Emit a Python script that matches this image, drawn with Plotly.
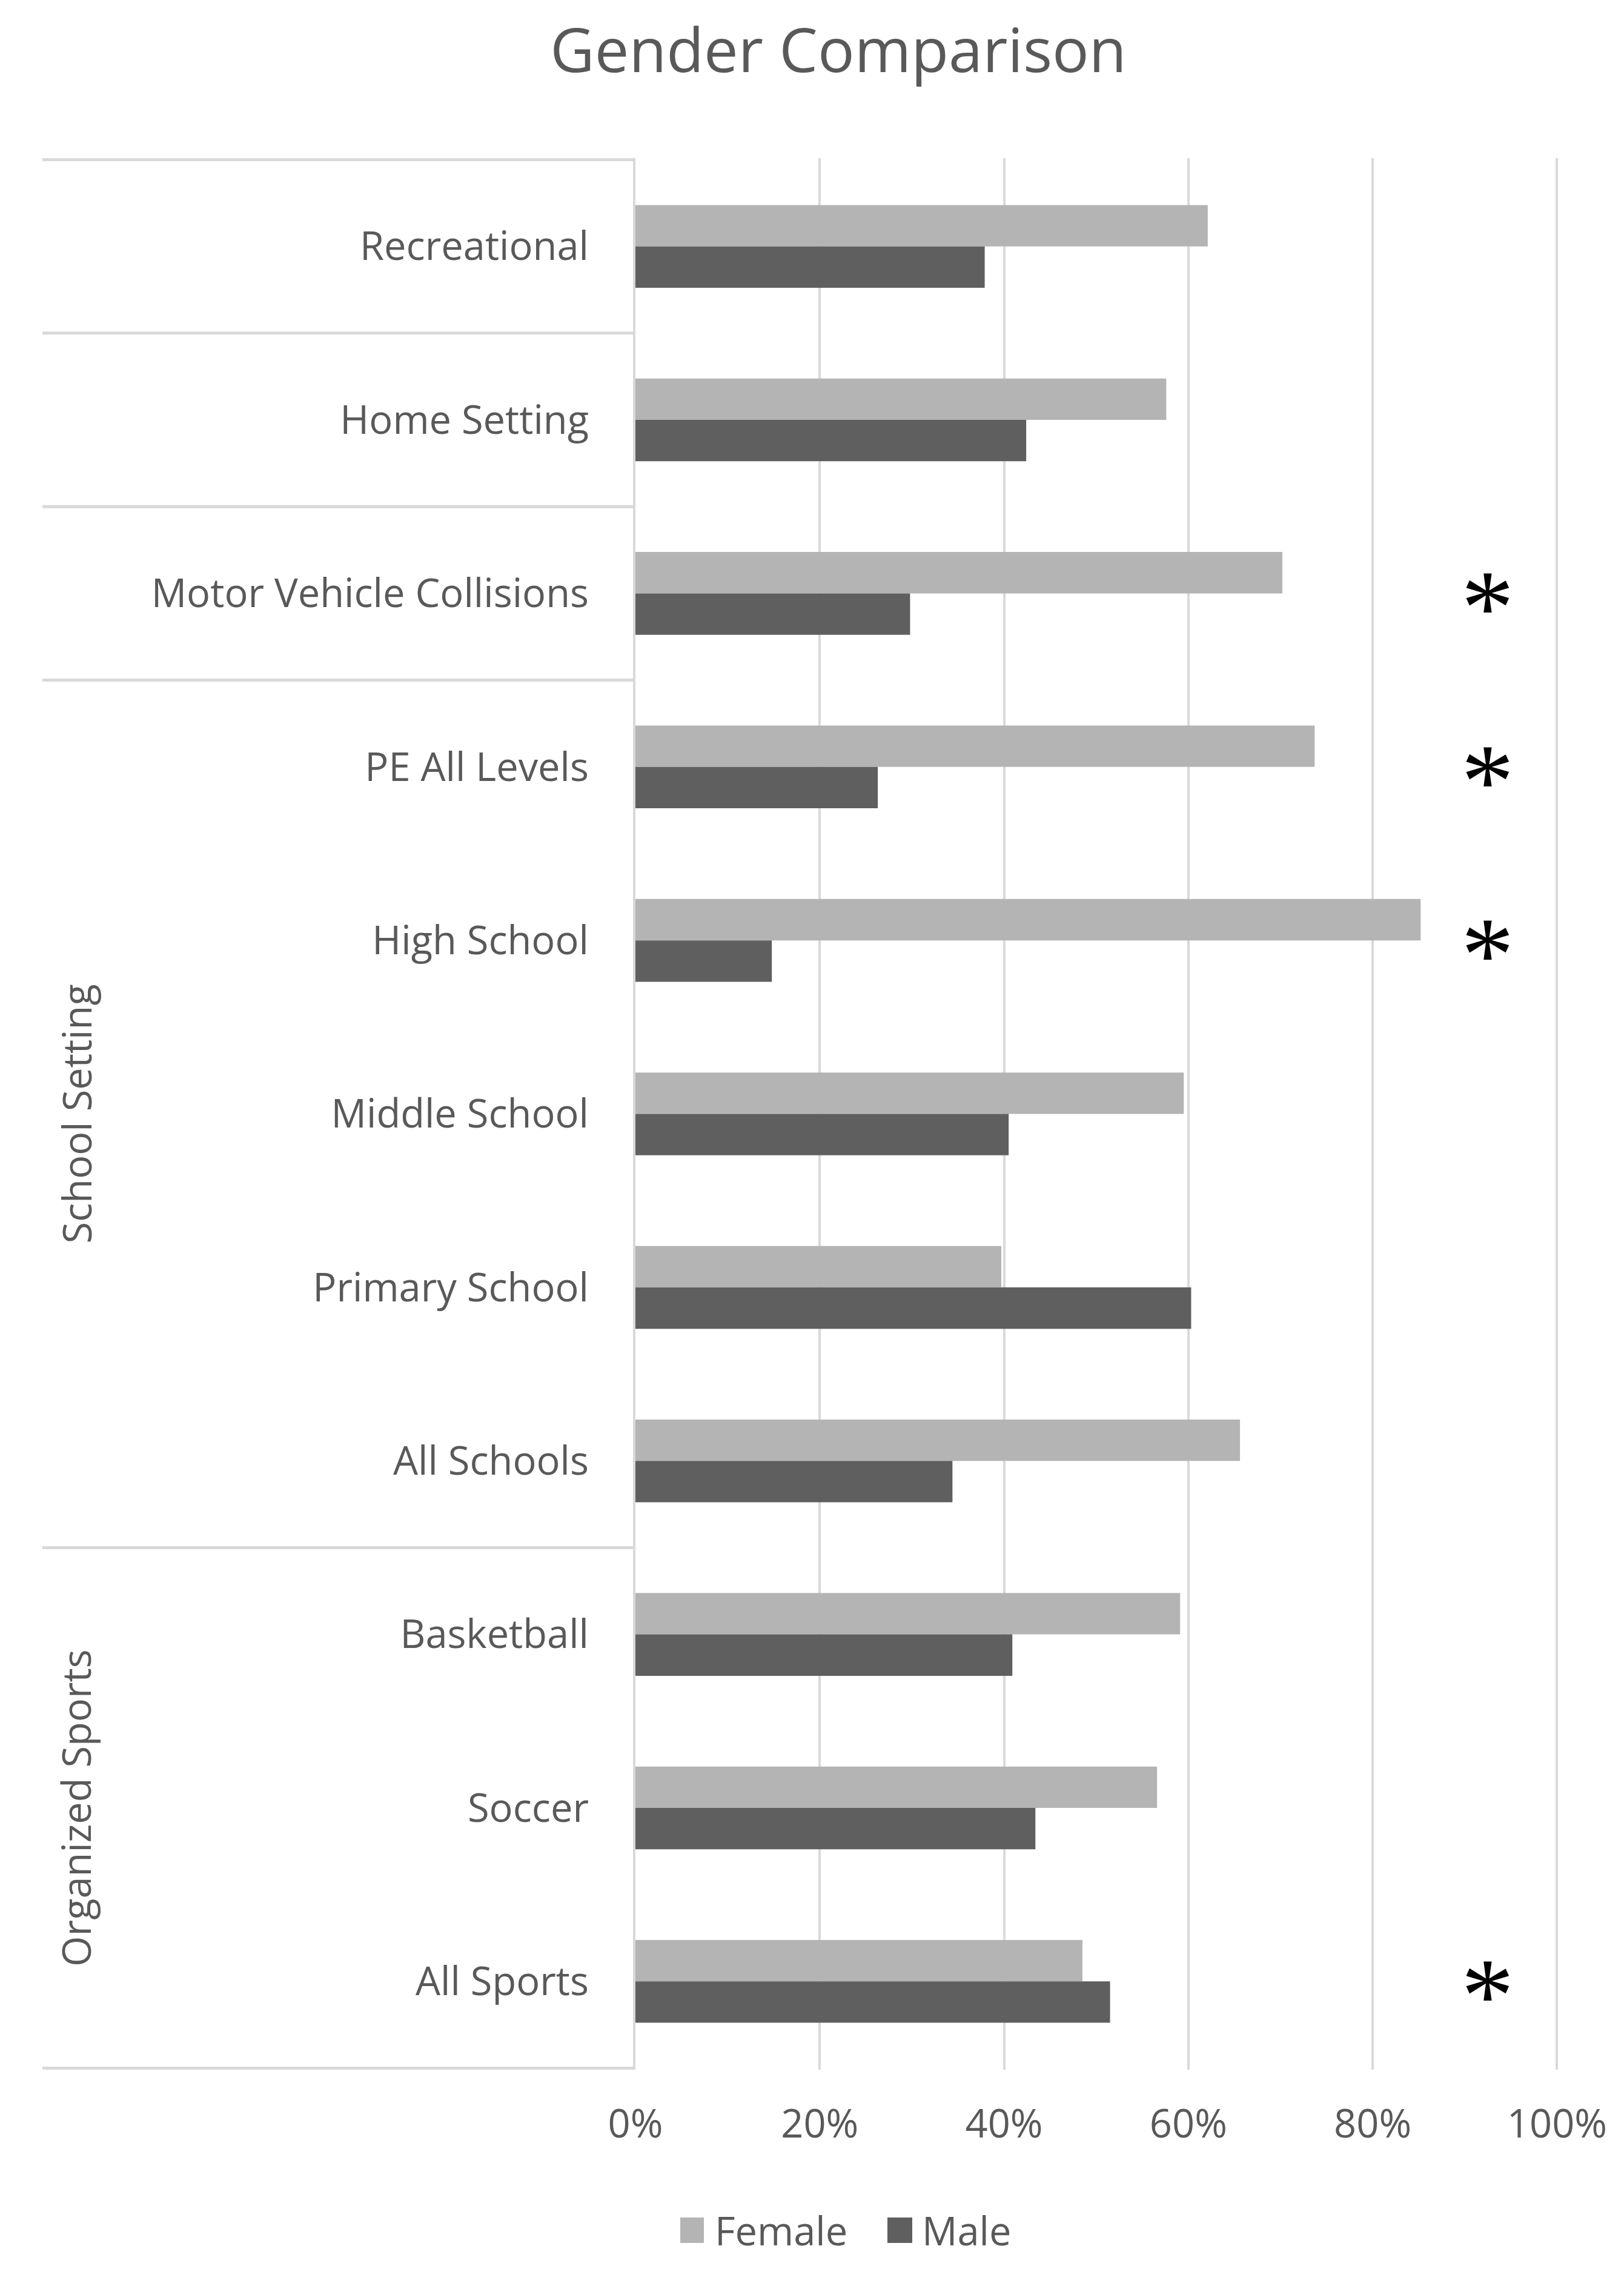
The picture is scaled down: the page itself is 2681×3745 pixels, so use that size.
import plotly.graph_objects as go

categories = ["Recreational", "Home Setting", "Motor Vehicle Collisions",
              "PE All Levels", "High School", "Middle School", "Primary School", "All Schools",
              "Basketball", "Soccer", "All Sports"]
female = [0.621, 0.576, 0.702, 0.737, 0.852, 0.595, 0.397, 0.656, 0.591, 0.566, 0.485]
male = [0.379, 0.424, 0.298, 0.263, 0.148, 0.405, 0.603, 0.344, 0.409, 0.434, 0.515]
groups = [("", ["Recreational"]), ("", ["Home Setting"]), ("", ["Motor Vehicle Collisions"]),
          ("School Setting", ["PE All Levels", "High School", "Middle School", "Primary School", "All Schools"]),
          ("Organized Sports", ["Basketball", "Soccer", "All Sports"])]
significant = ["Motor Vehicle Collisions", "PE All Levels", "High School", "All Sports"]
star_x = 0.925
x_ticks = [0, 0.2, 0.4, 0.6, 0.8, 1.0]
x_ticklabels = ["0%", "20%", "40%", "60%", "80%", "100%"]

FONT = "Open Sans"
TXT = "#595959"
GRID = "#D9D9D9"
C_F = "#B4B4B4"
C_M = "#5F5F5F"

W, H = 2681, 3745
L, R, T, B = 1041, 114, 253, 337
pw = W - L - R

def px2paper(px):
    return (px - L) / pw

fig = go.Figure()
fig.add_trace(go.Bar(y=categories, x=female, name="Female", orientation="h",
                     marker=dict(color=C_F, line=dict(width=0)), showlegend=False))
fig.add_trace(go.Bar(y=categories, x=male, name="Male", orientation="h",
                     marker=dict(color=C_M, line=dict(width=0)), showlegend=False))

shapes = []
annotations = []
# group separators
idx = 0
bounds = [-0.5]
for gname, items in groups:
    idx += len(items)
    bounds.append(idx - 0.5)
    if gname:
        mid = items[len(items) // 2]
        annotations.append(dict(text=gname, xref="paper", yref="y", x=px2paper(117), y=mid,
                                textangle=-90, showarrow=False, xanchor="center", yanchor="middle",
                                font=dict(family=FONT, size=65, color=TXT)))
for b in bounds:
    shapes.append(dict(type="line", xref="paper", yref="y", x0=px2paper(62), x1=0, y0=b, y1=b,
                       line=dict(color=GRID, width=5), layer="below"))

for s in significant:
    annotations.append(dict(text="*", xref="x", yref="y", x=star_x, y=s, showarrow=False,
                            xanchor="center", yanchor="middle", yshift=-24,
                            font=dict(family="Liberation Serif", size=175, color="#000000")))

# legend (manual)
leg_y0, leg_y1 = 1 - (3652 - T) / (H - T - B), 1 - (3694 - T) / (H - T - B)
for name, col, sx0, sx1, tx in [("Female", C_F, 1115, 1154, 1170), ("Male", C_M, 1457, 1498, 1512)]:
    shapes.append(dict(type="rect", xref="paper", yref="paper", x0=px2paper(sx0), x1=px2paper(sx1),
                       y0=leg_y1, y1=leg_y0, fillcolor=col, line=dict(width=0)))
    annotations.append(dict(text=name, xref="paper", yref="paper", x=px2paper(tx), y=(leg_y0 + leg_y1) / 2,
                            showarrow=False, xanchor="left", yanchor="middle",
                            font=dict(family=FONT, size=65, color=TXT)))

fig.update_layout(
    width=W, height=H,
    margin=dict(l=L, r=R, t=T, b=B),
    paper_bgcolor="white", plot_bgcolor="white",
    barmode="group", bargap=0.523, bargroupgap=0,
    title=dict(text="Gender Comparison", x=1376 / W, xanchor="center", y=1 - 76 / H, yanchor="middle",
               font=dict(family=FONT, size=101, color=TXT)),
    xaxis=dict(range=[0, 1.003], tickvals=x_ticks, ticktext=x_ticklabels, showgrid=True, gridcolor=GRID,
               gridwidth=4, zeroline=False, showline=False, ticks="", ticklabelstandoff=46,
               tickfont=dict(family=FONT, size=65, color=TXT)),
    yaxis=dict(categoryorder="array", categoryarray=categories, autorange="reversed",
               showgrid=False, zeroline=False, showline=True, linecolor=GRID, linewidth=4,
               ticks="", ticklabelstandoff=60, tickfont=dict(family=FONT, size=65, color=TXT)),
    shapes=shapes, annotations=annotations,
    showlegend=False,
)
fig.write_html("out.html")
